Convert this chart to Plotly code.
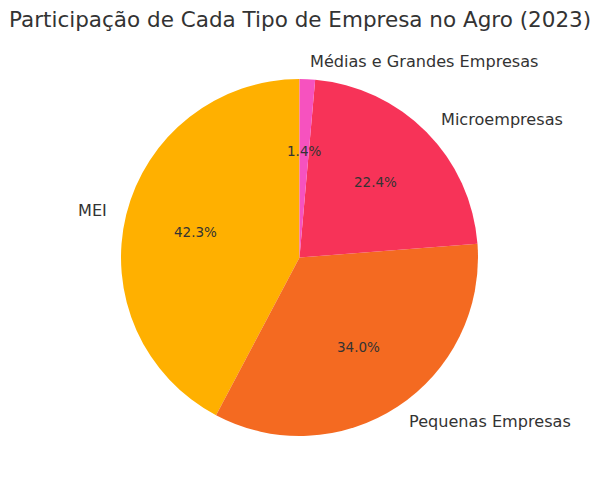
import math
import plotly.graph_objects as go

labels = ["MEI", "Pequenas Empresas", "Microempresas", "Médias e Grandes Empresas"]
values = [42.3, 34.0, 22.4, 1.4]
colors = ["#FFB000", "#F46A21", "#F73358", "#F652BF"]
title = "Participação de Cada Tipo de Empresa no Agro (2023)"

W, H = 600, 490
cx, cy, r = 299.5, 257.5, 178.5
txt = "#333333"
total = sum(values)

# plotly's counterclockwise mode ends the first slice at the rotation angle;
# rotate so the first slice starts at 12 o'clock like matplotlib startangle=90
rot = -360.0 * values[0] / total

fig = go.Figure(go.Pie(
    labels=labels, values=values, sort=False, direction="counterclockwise",
    rotation=rot, marker=dict(colors=colors, line=dict(width=0)),
    textinfo="none", hoverinfo="label+percent", showlegend=False,
    domain=dict(x=[(cx - r) / W, (cx + r) / W], y=[(H - cy - r) / H, (H - cy + r) / H]),
))

anns = []
start = 90.0
for lab, v in zip(labels, values):
    frac = v / total
    mid = math.radians(start + frac * 360 / 2)
    start += frac * 360
    lx = cx + 1.1 * r * math.cos(mid)
    ly = cy - 1.1 * r * math.sin(mid)
    anns.append(dict(x=lx / W, y=1 - ly / H, xref="paper", yref="paper", text=lab,
                     showarrow=False, xanchor="left" if math.cos(mid) > 0 else "right",
                     yanchor="middle", font=dict(size=16.1, color=txt)))
    px = cx + 0.6 * r * math.cos(mid)
    py = cy - 0.6 * r * math.sin(mid)
    anns.append(dict(x=px / W, y=1 - py / H, xref="paper", yref="paper",
                     text=f"{frac*100:.1f}%", showarrow=False, xanchor="center",
                     yanchor="middle", font=dict(size=13.5, color=txt)))

anns.append(dict(x=0.5, y=1 - 19 / H, xref="paper", yref="paper", text=title, showarrow=False,
                 xanchor="center", yanchor="middle", font=dict(size=21.5, color=txt)))

fig.update_layout(
    width=W, height=H, margin=dict(l=0, r=0, t=0, b=0),
    paper_bgcolor="white", plot_bgcolor="white",
    font=dict(family="DejaVu Sans", color=txt),
    annotations=anns,
)
fig.write_html("out.html")
